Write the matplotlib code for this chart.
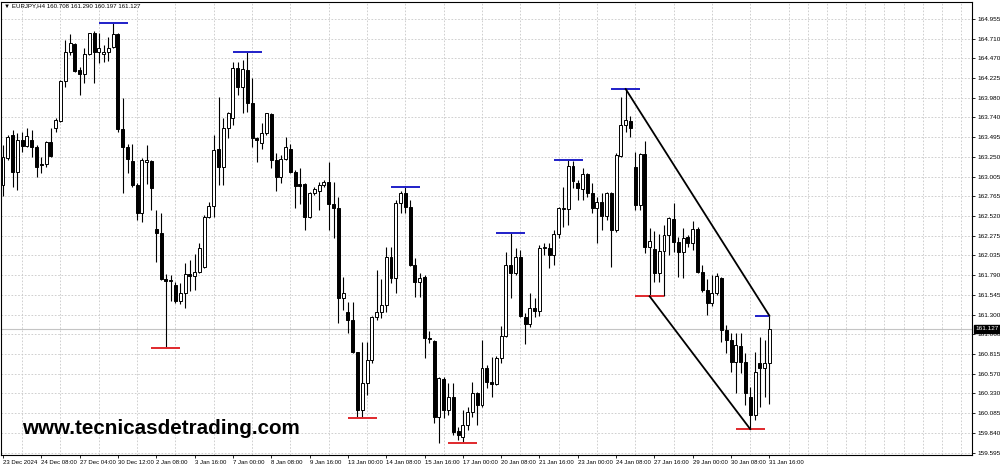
import matplotlib
matplotlib.use("Agg")
import matplotlib.pyplot as plt

symbol = "EURJPY,H4"
watermark = "www.tecnicasdetrading.com"

opens = [162.90,163.24,163.52,163.07,163.46,163.39,163.46,163.37,163.17,163.17,
         163.44,163.61,163.70,164.19,164.55,164.65,164.33,164.28,164.52,164.78,
         164.55,164.52,164.55,164.61,164.77,163.60,163.37,163.20,162.90,162.56,
         163.19,163.20,162.36,162.31,161.74,161.72,161.67,161.47,161.57,161.81,
         161.78,161.83,161.89,162.51,162.65,163.35,163.13,163.61,163.73,164.35,
         164.12,164.33,163.92,163.49,163.42,163.55,163.78,163.21,163.00,163.23,
         163.35,163.07,162.92,162.92,162.51,162.81,162.83,162.90,162.94,162.67,
         162.62,161.51,161.34,161.24,160.84,160.13,160.46,160.74,161.28,161.34,
         161.42,162.02,161.76,162.68,162.81,162.63,161.92,161.71,161.77,161.02,
         160.98,160.04,160.51,160.13,160.29,159.87,159.79,159.94,160.10,160.34,
         160.19,160.64,160.47,160.45,160.77,161.04,161.92,161.82,162.02,161.28,
         161.19,161.39,161.35,162.13,162.13,162.04,162.30,162.61,162.61,163.14,
         162.93,162.86,163.04,162.81,162.62,162.70,162.52,162.81,162.35,163.26,
         163.65,163.70,163.13,162.66,163.29,162.14,162.12,161.82,162.09,162.29,
         162.49,162.20,162.08,162.26,162.19,162.36,161.83,161.61,161.45,161.57,
         161.76,161.11,160.99,160.72,160.92,160.72,160.29,160.06,160.71,160.64,
         160.708]

highs = [163.40,163.52,163.58,163.55,163.56,163.61,163.58,163.40,163.25,163.45,
         163.61,163.73,164.20,164.70,164.77,164.66,164.36,164.60,164.78,164.81,
         164.78,164.63,164.73,164.91,164.78,163.98,163.41,163.41,162.93,163.24,
         163.40,163.21,162.60,162.56,161.81,161.79,161.71,161.70,161.94,161.98,
         162.05,162.19,162.53,162.70,163.52,163.99,163.73,163.81,164.42,164.42,
         164.45,164.55,164.23,163.50,163.67,163.79,163.79,163.30,163.28,163.50,
         163.41,163.09,163.12,162.93,162.82,162.88,162.94,162.97,163.19,162.94,
         162.76,161.77,161.46,161.46,160.84,160.97,160.97,161.29,161.86,161.74,
         162.14,162.14,162.72,162.83,162.88,162.72,162.00,161.82,161.79,161.10,
         160.99,160.53,160.53,160.46,160.46,159.92,160.13,160.16,160.47,160.35,
         160.99,160.68,160.78,160.79,161.16,162.08,162.31,162.13,162.10,161.32,
         161.57,161.51,162.16,162.19,162.19,162.35,162.63,162.88,163.21,163.20,
         162.97,163.12,163.05,162.93,162.76,162.81,162.82,162.82,163.30,163.99,
         164.09,163.76,163.31,163.30,163.45,162.37,162.34,162.30,162.41,162.51,
         162.68,162.26,162.37,162.29,162.46,162.39,161.92,161.74,161.79,161.82,
         161.77,161.18,161.08,161.08,161.08,160.83,160.41,160.84,161.03,160.99,
         161.290]

lows = [162.77,163.21,162.88,162.84,163.31,163.37,163.25,163.00,163.05,163.13,
        163.25,163.56,163.68,164.12,164.51,164.30,164.02,164.17,164.51,164.17,
        164.41,164.42,164.44,164.60,163.56,162.81,163.05,162.88,162.47,162.45,
        162.92,162.60,161.95,161.73,160.89,161.47,161.45,161.43,161.39,161.60,
        161.61,161.82,161.88,162.50,162.51,162.90,162.90,163.49,163.65,164.02,
        163.79,163.81,163.37,163.19,163.35,163.52,163.12,162.83,162.93,163.21,
        163.05,162.62,162.67,162.35,162.50,162.78,162.60,162.88,162.35,162.25,
        161.20,161.36,161.08,160.83,160.04,160.03,160.31,160.71,161.24,161.26,
        161.34,161.70,161.57,162.56,162.56,161.91,161.52,161.52,160.77,160.95,
        159.97,159.72,160.03,160.06,159.82,159.76,159.72,159.88,160.04,159.94,
        160.16,160.40,160.29,160.44,160.71,161.03,161.51,161.79,161.27,160.94,
        161.15,161.28,161.29,162.04,161.88,161.92,162.25,162.39,162.41,162.87,
        162.72,162.72,162.76,162.56,162.19,162.35,162.47,161.89,162.33,163.25,
        163.56,163.50,162.60,162.60,162.07,161.53,161.71,161.71,161.53,162.04,
        162.08,161.77,161.76,162.14,162.10,161.82,161.58,161.30,161.41,161.55,
        160.97,160.83,160.60,160.34,160.58,160.19,159.89,160.00,160.16,160.29,
        160.197]

closes = [163.25,163.50,163.07,163.46,163.39,163.51,163.37,163.13,163.15,163.44,
          163.26,163.71,164.19,164.55,164.66,164.31,164.28,164.52,164.78,164.55,
          164.60,164.55,164.60,164.77,163.60,163.37,163.23,162.90,162.56,163.21,
          163.21,162.87,162.31,161.74,161.72,161.73,161.47,161.57,161.81,161.78,
          161.83,162.13,162.51,162.65,163.34,163.13,163.61,163.79,164.35,164.12,
          164.34,163.92,163.49,163.46,163.55,163.79,163.21,163.00,163.23,163.37,
          163.07,162.89,162.89,162.51,162.81,162.86,162.90,162.94,162.67,162.62,
          161.51,161.57,161.24,160.84,160.13,160.46,160.74,161.28,161.34,161.42,
          162.02,161.76,162.68,162.81,162.63,161.92,161.71,161.76,161.02,161.00,
          160.04,160.52,160.13,160.29,159.86,159.82,159.94,160.10,160.34,160.19,
          160.64,160.47,160.45,160.77,161.04,161.92,161.82,162.02,161.29,161.19,
          161.39,161.35,162.13,162.14,162.04,162.30,162.62,162.62,163.14,162.95,
          162.87,163.04,162.81,162.62,162.70,162.52,162.81,162.35,163.28,163.65,
          163.71,163.61,162.66,163.29,162.14,162.21,161.82,162.09,162.29,162.50,
          162.20,162.08,162.25,162.19,162.36,161.83,161.61,161.45,161.57,161.78,
          161.11,160.99,160.72,160.93,160.72,160.34,160.06,160.60,160.64,160.71,
          161.127]

x_labels = ["23 Dec 2024", "24 Dec 08:00", "27 Dec 04:00", "30 Dec 12:00",
            "2 Jan 08:00", "3 Jan 16:00", "7 Jan 00:00", "8 Jan 08:00",
            "9 Jan 16:00", "13 Jan 00:00", "14 Jan 08:00", "15 Jan 16:00",
            "17 Jan 00:00", "20 Jan 08:00", "21 Jan 16:00", "23 Jan 00:00",
            "24 Jan 08:00", "27 Jan 16:00", "29 Jan 00:00", "30 Jan 08:00",
            "31 Jan 16:00"]

y_ticks = [164.955, 164.710, 164.470, 164.225, 163.980, 163.740, 163.495,
           163.250, 163.005, 162.765, 162.520, 162.275, 162.035, 161.790,
           161.545, 161.300, 161.060, 160.815, 160.570, 160.330, 160.085,
           159.840, 159.595]

swing_highs = [23, 51, 84, 106, 118, 130, 160]
swing_lows = [34, 75, 96, 135, 156]
trend_upper = (130, 160)
trend_lower = (135, 156)

n = len(closes)
xs = list(range(n))
fam = ["Liberation Sans", "DejaVu Sans"]

fig = plt.figure(figsize=(10, 4.68), dpi=100)
ax = fig.add_axes([0.001, 13 / 468, 0.971, 453 / 468])
ax.set_xlim(-0.42, 202.3)
ax.set_ylim(159.570, 165.165)

# grid
ax.set_xticks(range(0, 204, 4), minor=True)
ax.set_xticks(range(0, n, 8))
ax.set_xticklabels(x_labels, ha="left", fontsize=4.3, family=fam)
ax.tick_params(axis="x", which="minor", length=0)
ax.tick_params(axis="x", which="major", length=2, width=0.6, pad=1.5, color="black")
ax.grid(True, axis="x", which="minor", color="#c8c8c8", linestyle=(0, (2, 2)), linewidth=0.6)
ax.yaxis.tick_right()
ax.set_yticks(y_ticks)
ax.set_yticklabels([f"{v:.3f}" for v in y_ticks], fontsize=4.6, family=fam)
ax.tick_params(axis="y", length=2.5, width=0.6, pad=1.5)
ax.grid(True, axis="y", which="major", color="#c8c8c8", linestyle=(0, (2, 2)), linewidth=0.6)
ax.set_axisbelow(True)
for sp in ax.spines.values():
    sp.set_linewidth(0.8)
    sp.set_color("black")

# current price line
ax.axhline(closes[-1], color="#c4c4c4", linewidth=0.8, zorder=1)

# candles
ax.vlines(xs, lows, highs, color="black", linewidth=0.8, zorder=2)
for i in xs:
    o, c = opens[i], closes[i]
    bottom = min(o, c)
    h = max(abs(c - o), 0.006)
    fill = "white" if c >= o else "black"
    ax.bar(i, h, bottom=bottom, width=0.62, color=fill, edgecolor="black",
           linewidth=0.7, zorder=3)

# swing markers
for i in swing_highs:
    ax.hlines(highs[i], i - 3, min(i + 3, n - 1), color="#1f1fc8", linewidth=1.4, zorder=4)
for i in swing_lows:
    ax.hlines(lows[i], i - 3, min(i + 3, n - 1), color="#e0282c", linewidth=1.4, zorder=4)

# trend channel
ax.plot(trend_upper, [highs[trend_upper[0]], highs[trend_upper[1]]], color="black",
        linewidth=1.3, zorder=5)
ax.plot(trend_lower, [lows[trend_lower[0]], lows[trend_lower[1]]], color="black",
        linewidth=1.3, zorder=5)

# current price label
ax.text(1.004, closes[-1], f"{closes[-1]:.3f}", transform=ax.get_yaxis_transform(),
        ha="left", va="center", fontsize=4.6, color="white", family=fam,
        bbox=dict(boxstyle="square,pad=0.25", facecolor="black", edgecolor="black"),
        zorder=10, clip_on=False)

# header
fig.text(0.004, 0.987,
         f"\u25bc {symbol} {opens[-1]:.3f} {highs[-1]:.3f} {lows[-1]:.3f} {closes[-1]:.3f}",
         ha="left", va="center", fontsize=4.4, color="black", family=fam)

# watermark
fig.text(0.022, (468 - 434) / 468, watermark, ha="left", va="baseline",
         fontsize=14.9, fontweight="bold", color="black", family=fam)

fig.savefig("out.png", dpi=100, facecolor="white")
